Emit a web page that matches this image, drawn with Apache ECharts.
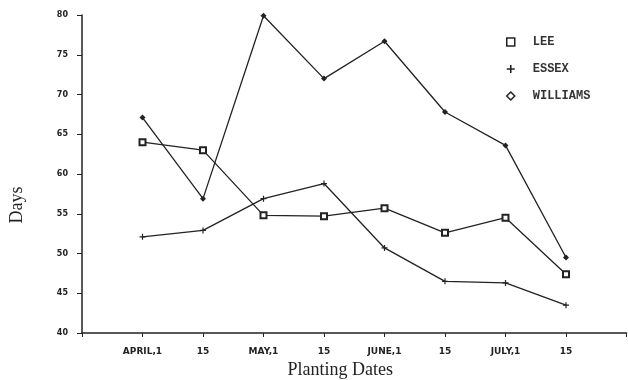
<!DOCTYPE html>
<html><head><meta charset="utf-8">
<script src="https://cdn.jsdelivr.net/npm/echarts@6/dist/echarts.min.js"></script>
<style>html,body{margin:0;padding:0;background:#fff}#c{width:628px;height:380px}</style>
</head><body><div id="c"></div>
<script>
const dateLabels = ['APRIL,1','15','MAY,1','15','JUNE,1','15','JULY,1','15'];
const lee = [64, 63, 54.8, 54.7, 55.7, 52.6, 54.5, 47.4];
const essex = [52.1, 52.9, 56.9, 58.8, 50.7, 46.5, 46.3, 43.5];
const williams = [67.1, 56.9, 79.9, 72, 76.7, 67.8, 63.6, 49.5];
const yTicks = [40, 45, 50, 55, 60, 65, 70, 75, 80];

const ink = '#222';
const plus = 'path://M4,0H6V4H10V6H6V10H4V6H0V4H4Z';
const pts = arr => arr.map((v, i) => [i, v]);

const chart = echarts.init(document.getElementById('c'));
chart.setOption({
  animation: false,
  backgroundColor: '#fff',
  grid: {left: 82, top: 15, right: 1.5, bottom: 47, outerBoundsMode: 'none', containLabel: false},
  legend: {
    orient: 'vertical', left: 501, top: 31, itemGap: 15, itemWidth: 8, itemHeight: 8,
    textStyle: {fontFamily: 'Liberation Mono', fontWeight: 'bold', fontSize: 12, color: '#333', padding: [0,0,0,13]},
    data: [
      {name: 'LEE', icon: 'rect', itemStyle: {color: '#fff', borderColor: ink, borderWidth: 1.5}},
      {name: 'ESSEX', icon: plus, itemStyle: {color: ink, borderWidth: 0}},
      {name: 'WILLIAMS', icon: 'diamond', itemStyle: {color: '#fff', borderColor: ink, borderWidth: 1.5}}
    ]
  },
  xAxis: {
    type: 'value', min: -1, max: 8, interval: 1,
    name: 'Planting Dates', nameLocation: 'middle', nameGap: 26,
    nameTextStyle: {fontFamily: 'Liberation Serif', fontSize: 18, color: '#222', padding: [0, 28, 0, 0]},
    axisLine: {onZero: false, lineStyle: {color: ink, width: 1.5}},
    axisTick: {show: true, length: 4, lineStyle: {color: ink}},
    splitLine: {show: false},
    axisLabel: {
      margin: 14, fontFamily: 'DejaVu Sans', fontWeight: 'bold', fontSize: 9, color: '#222',
      formatter: v => (v >= 0 && v < dateLabels.length) ? dateLabels[v] : ''
    }
  },
  yAxis: {
    type: 'value', min: yTicks[0], max: yTicks[yTicks.length - 1], interval: 5,
    name: 'Days', nameLocation: 'middle', nameGap: 56, nameRotate: 90,
    nameTextStyle: {fontFamily: 'Liberation Serif', fontSize: 18, color: '#222', padding: [0, 62, 0, 0]},
    axisLine: {show: true, onZero: false, lineStyle: {color: ink, width: 1.5}},
    axisTick: {show: true, length: 5, lineStyle: {color: ink}},
    splitLine: {show: false},
    axisLabel: {margin: 14, fontFamily: 'DejaVu Sans', fontWeight: 'bold', fontSize: 8, color: '#222'}
  },
  series: [
    {name: 'LEE', type: 'line', data: pts(lee), symbol: 'emptyRect', symbolSize: 6,
     lineStyle: {color: ink, width: 1.3}, itemStyle: {color: ink, borderColor: ink, borderWidth: 1.2}},
    {name: 'ESSEX', type: 'line', data: pts(essex), symbol: plus, symbolSize: 6,
     lineStyle: {color: ink, width: 1.3}, itemStyle: {color: ink}},
    {name: 'WILLIAMS', type: 'line', data: pts(williams), symbol: 'diamond', symbolSize: 6,
     lineStyle: {color: ink, width: 1.3}, itemStyle: {color: ink}}
  ]
});
</script></body></html>
